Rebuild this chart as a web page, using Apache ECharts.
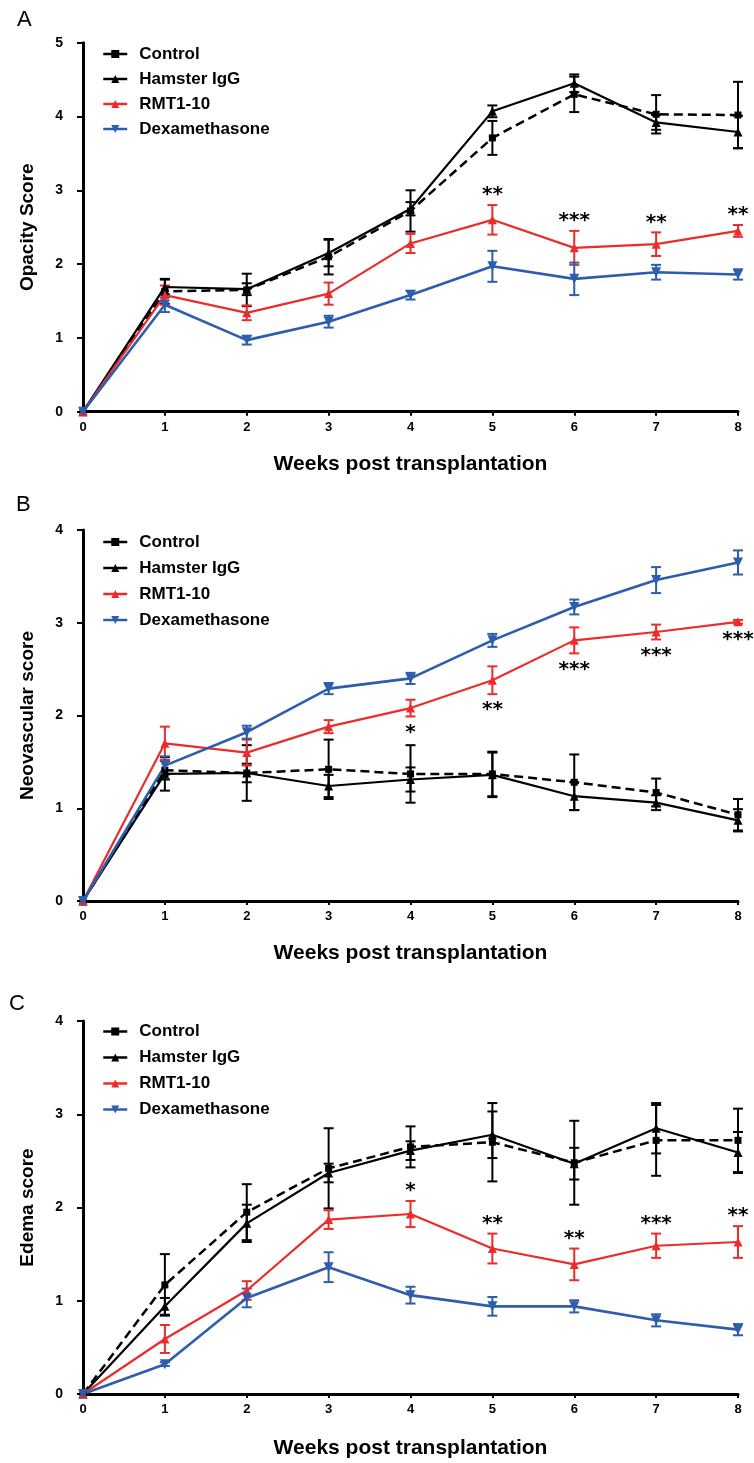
<!DOCTYPE html>
<html>
<head>
<meta charset="utf-8">
<script src="https://cdn.jsdelivr.net/npm/echarts@6/dist/echarts.min.js"></script>
<style>
html,body{margin:0;padding:0;background:#fff;}
#chart{width:754px;height:1463px;}
</style>
</head>
<body>
<div id="chart"></div>
<script>
// ---------- data ----------
const weeks = [0, 1, 2, 3, 4, 5, 6, 7, 8];
const seriesNames = ['Control', 'Hamster IgG', 'RMT1-10', 'Dexamethasone'];
const xTitle = 'Weeks post transplantation';
const panelLetters = ['A', 'B', 'C'];
const yTitles = ['Opacity Score', 'Neovascular score', 'Edema score'];
const yMax = [5, 4, 4];

// Panel A: opacity
const ctrlA    = [0, 1.63, 1.65, 2.10, 2.72, 3.71, 4.30, 4.03, 4.02];
const ctrlAErr = [0, 0.17, 0.22, 0.24, 0.28, 0.23, 0.24, 0.26, 0.45];
const hamA     = [0, 1.69, 1.66, 2.15, 2.75, 4.07, 4.45, 3.92, 3.79];
const hamAErr  = [0, 0.10, 0.08, 0.18, 0.09, 0.08, 0.12, 0.10, 0.22];
const rmtA     = [0, 1.58, 1.34, 1.60, 2.28, 2.60, 2.22, 2.27, 2.45];
const rmtAErr  = [0, 0.13, 0.10, 0.15, 0.13, 0.20, 0.23, 0.16, 0.08];
const dexA     = [0, 1.45, 0.97, 1.22, 1.58, 1.97, 1.80, 1.89, 1.86];
const dexAErr  = [0, 0.10, 0.06, 0.08, 0.06, 0.21, 0.22, 0.10, 0.07];
const sigA     = ['', '', '', '', '', '**', '***', '**', '**'];

// Panel B: neovascular
const ctrlB    = [0, 1.41, 1.38, 1.42, 1.37, 1.37, 1.28, 1.17, 0.93];
const ctrlBErr = [0, 0.10, 0.10, 0.32, 0.31, 0.24, 0.30, 0.15, 0.17];
const hamB     = [0, 1.37, 1.38, 1.24, 1.31, 1.36, 1.13, 1.06, 0.87];
const hamBErr  = [0, 0.18, 0.30, 0.12, 0.13, 0.24, 0.15, 0.08, 0.12];
const rmtB     = [0, 1.70, 1.60, 1.88, 2.08, 2.38, 2.81, 2.90, 3.01];
const rmtBErr  = [0, 0.18, 0.14, 0.07, 0.09, 0.15, 0.14, 0.08, 0.02];
const dexB     = [0, 1.46, 1.82, 2.29, 2.40, 2.81, 3.17, 3.46, 3.65];
const dexBErr  = [0, 0.10, 0.07, 0.06, 0.06, 0.07, 0.08, 0.14, 0.13];
const sigB     = ['', '', '', '', '*', '**', '***', '***', '***'];

// Panel C: edema
const ctrlC    = [0, 1.17, 1.95, 2.42, 2.65, 2.70, 2.48, 2.72, 2.72];
const ctrlCErr = [0, 0.33, 0.30, 0.43, 0.22, 0.42, 0.45, 0.38, 0.34];
const hamC     = [0, 0.94, 1.83, 2.37, 2.61, 2.78, 2.47, 2.85, 2.59];
const hamCErr  = [0, 0.09, 0.20, 0.10, 0.10, 0.25, 0.17, 0.27, 0.22];
const rmtC     = [0, 0.59, 1.11, 1.87, 1.93, 1.56, 1.39, 1.59, 1.63];
const rmtCErr  = [0, 0.15, 0.10, 0.10, 0.14, 0.16, 0.17, 0.13, 0.17];
const dexC     = [0, 0.32, 1.03, 1.36, 1.06, 0.94, 0.94, 0.79, 0.69];
const dexCErr  = [0, 0.02, 0.10, 0.16, 0.09, 0.10, 0.065, 0.065, 0.06];
const sigC     = ['', '', '', '', '*', '**', '**', '***', '**'];

// ---------- styling / layout ----------
const FONT = 'Liberation Sans, Arial, Helvetica, sans-serif';
const RED = '#EE2B2B', BLUE = '#2D5DAD', BLACK = '#000000';
const panels = [
  {top: 42.7, height: 369, legendTop: 40.5, legendGap: 8, ctrl: ctrlA, ctrlE: ctrlAErr, ham: hamA, hamE: hamAErr, rmt: rmtA, rmtE: rmtAErr, dex: dexA, dexE: dexAErr, sig: sigA, sigPos: 'above', nameGap: 42},
  {top: 530, height: 371, legendTop: 528.5, legendGap: 9, ctrl: ctrlB, ctrlE: ctrlBErr, ham: hamB, hamE: hamBErr, rmt: rmtB, rmtE: rmtBErr, dex: dexB, dexE: dexBErr, sig: sigB, sigPos: 'below', nameGap: 42},
  {top: 1021, height: 373, legendTop: 1018, legendGap: 9, ctrl: ctrlC, ctrlE: ctrlCErr, ham: hamC, hamE: hamCErr, rmt: rmtC, rmtE: rmtCErr, dex: dexC, dexE: dexCErr, sig: sigC, sigPos: 'above', nameGap: 44}
];
const letterPos = [[17, 9], [16, 494], [9, 993]];

function pairs(vals) { return weeks.map((w, i) => [w, vals[i]]); }
function triples(vals, errs) { return weeks.map((w, i) => [w, vals[i], errs[i]]); }

function errRender(color) {
  return function (params, api) {
    const x = api.value(0), v = api.value(1), e = api.value(2);
    if (!e) return null;
    const hi = api.coord([x, v + e]), lo = api.coord([x, v - e]);
    const cw = 5;
    const st = {stroke: color, lineWidth: 2};
    return {type: 'group', children: [
      {type: 'line', shape: {x1: hi[0], y1: hi[1], x2: lo[0], y2: lo[1]}, style: st},
      {type: 'line', shape: {x1: hi[0] - cw, y1: hi[1], x2: hi[0] + cw, y2: hi[1]}, style: st},
      {type: 'line', shape: {x1: lo[0] - cw, y1: lo[1], x2: lo[0] + cw, y2: lo[1]}, style: st}
    ]};
  };
}

function sigRender(sig, pos) {
  return function (params, api) {
    const lab = sig[params.dataIndex];
    if (!lab) return null;
    const x = api.value(0), v = api.value(1), e = api.value(2);
    const p = pos === 'above' ? api.coord([x, v + e]) : api.coord([x, v - e]);
    const y = pos === 'above' ? p[1] - 10 : p[1] + 16;
    return {type: 'text', x: p[0], y: y, style: {text: lab, fill: '#000', font: 'bold 20px DejaVu Sans', align: 'center', verticalAlign: 'middle'}};
  };
}

const grid = [], xAxis = [], yAxis = [], series = [], legend = [], graphic = [];
panels.forEach((P, k) => {
  grid.push({left: 83, right: 16, top: P.top, height: P.height, containLabel: false});
  xAxis.push({
    type: 'value', gridIndex: k, min: 0, max: 8, interval: 1,
    name: xTitle, nameLocation: 'middle', nameGap: P.nameGap,
    nameTextStyle: {fontFamily: FONT, fontWeight: 'bold', fontSize: 21, color: '#000'},
    axisLine: {show: true, onZero: false, lineStyle: {color: '#000', width: 3}},
    axisTick: {show: true, length: 4, lineStyle: {color: '#000', width: 2}},
    axisLabel: {fontFamily: FONT, fontWeight: 'bold', fontSize: 13, color: '#000', margin: 9},
    splitLine: {show: false}
  });
  yAxis.push({
    type: 'value', gridIndex: k, min: 0, max: yMax[k], interval: 1,
    name: yTitles[k], nameLocation: 'middle', nameGap: 46,
    nameTextStyle: {fontFamily: FONT, fontWeight: 'bold', fontSize: 19, color: '#000'},
    axisLine: {show: true, onZero: false, lineStyle: {color: '#000', width: 3}},
    axisTick: {show: true, length: 6, lineStyle: {color: '#000', width: 2}},
    axisLabel: {fontFamily: FONT, fontWeight: 'bold', fontSize: 14, color: '#000', margin: 20},
    splitLine: {show: false}
  });
  const defs = [
    {name: seriesNames[0], v: P.ctrl, e: P.ctrlE, color: BLACK, symbol: 'rect', size: 7, rot: 0, type: [9, 5], width: 2.5},
    {name: seriesNames[1], v: P.ham, e: P.hamE, color: BLACK, symbol: 'triangle', size: 9, rot: 0, type: 'solid', width: 2.2},
    {name: seriesNames[2], v: P.rmt, e: P.rmtE, color: RED, symbol: 'triangle', size: 9, rot: 0, type: 'solid', width: 2.2},
    {name: seriesNames[3], v: P.dex, e: P.dexE, color: BLUE, symbol: 'triangle', size: 10, rot: 180, type: 'solid', width: 2.6}
  ];
  defs.forEach(d => {
    series.push({
      type: 'custom', xAxisIndex: k, yAxisIndex: k, name: d.name + ' err', silent: true,
      renderItem: errRender(d.color), data: triples(d.v, d.e), z: 2
    });
  });
  defs.forEach(d => {
    series.push({
      type: 'line', name: d.name, xAxisIndex: k, yAxisIndex: k, data: pairs(d.v),
      symbol: d.symbol, symbolSize: d.size, symbolRotate: d.rot, showAllSymbol: true,
      lineStyle: {color: d.color, width: d.width, type: d.type},
      itemStyle: {color: d.color, borderWidth: 0},
      animation: false, z: 3, clip: false
    });
  });
  series.push({
    type: 'custom', xAxisIndex: k, yAxisIndex: k, name: 'sig', silent: true,
    renderItem: sigRender(P.sig, P.sigPos), data: triples(P.rmt, P.rmtE), z: 4, clip: false
  });
  legend.push({
    orient: 'vertical', left: 97, top: P.legendTop, itemWidth: 24, itemHeight: 10,
    itemGap: P.legendGap, data: seriesNames, selectedMode: false,
    lineStyle: {type: 'solid', width: 2.5},
    textStyle: {fontFamily: FONT, fontWeight: 'bold', fontSize: 17, color: '#000', padding: [0, 0, 0, 7]}
  });
  graphic.push({
    type: 'text', left: letterPos[k][0], top: letterPos[k][1],
    style: {text: panelLetters[k], font: '22px ' + FONT, fill: '#000'}
  });
});

const chart = echarts.init(document.getElementById('chart'), null, {renderer: 'canvas'});
chart.setOption({
  animation: false,
  backgroundColor: '#fff',
  grid: grid, xAxis: xAxis, yAxis: yAxis, series: series, legend: legend, graphic: graphic
});
</script>
</body>
</html>
